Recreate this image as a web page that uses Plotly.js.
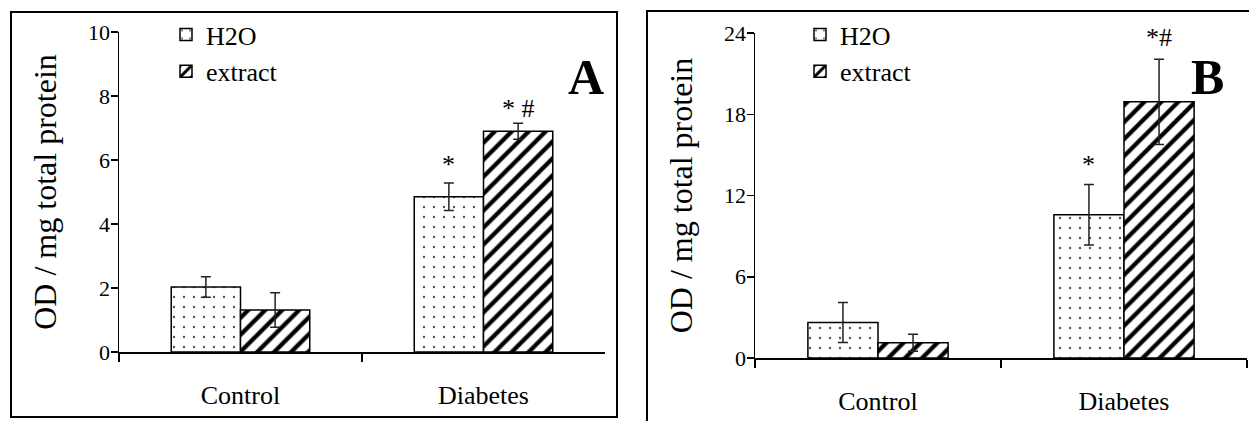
<!DOCTYPE html>
<html>
<head>
<meta charset="utf-8">
<script src="https://cdn.plot.ly/plotly-3.0.1.min.js"></script>
<style>html,body{margin:0;padding:0;background:#fff;}#chart{width:1249px;height:421px;}</style>
</head>
<body>
<div id="chart"></div>
<script>
// ---- data ----
const categories = ['Control', 'Diabetes'];
const seriesNames = ['H2O', 'extract'];

// Panel A
const A_h2o = [2.03, 4.85];
const A_h2o_err = [0.32, 0.43];
const A_extract = [1.31, 6.90];
const A_extract_err = [0.54, 0.25];
const A_yTicks = [0, 2, 4, 6, 8, 10];

// Panel B
const B_h2o = [2.62, 10.58];
const B_h2o_err = [1.47, 2.24];
const B_extract = [1.12, 18.92];
const B_extract_err = [0.63, 3.15];
const B_yTicks = [0, 6, 12, 18, 24];

// significance marks: [category index, series index, y value, text]
const A_marks = [[1, 0, 5.85, '*'], [1, 1, 7.6, '* #']];
const B_marks = [[1, 0, 14.3, '*'], [1, 1, 23.7, '*#']];

const yTitle = 'OD / mg total protein';
const panelLabels = ['A', 'B'];

// ---- styling ----
const W = 1249, H = 421;
const FONT = "'Liberation Serif', 'Times New Roman', Times, serif";
const BARGAP = 0.43;
const px = v => v / W;
const py = v => 1 - v / H;

const patH2O = {shape: '.', bgcolor: 'white', fgcolor: '#555', size: 10, solidity: 0.045};
const patExt = {shape: '/', bgcolor: 'white', fgcolor: 'black', size: 12, solidity: 0.36};

function barTrace(name, y, err, pattern, xa, ya, legend) {
  return {
    type: 'bar', name: name, x: categories, y: y,
    xaxis: xa, yaxis: ya, legend: legend, showlegend: true,
    marker: {color: 'white', pattern: pattern, line: {color: 'black', width: 1.5}},
    error_y: {type: 'data', array: err, visible: true, color: '#222', thickness: 1.5, width: 5},
    hoverinfo: 'skip'
  };
}

const data = [
  barTrace(seriesNames[0], A_h2o, A_h2o_err, patH2O, 'x', 'y', 'legend'),
  barTrace(seriesNames[1], A_extract, A_extract_err, patExt, 'x', 'y', 'legend'),
  barTrace(seriesNames[0], B_h2o, B_h2o_err, patH2O, 'x2', 'y2', 'legend2'),
  barTrace(seriesNames[1], B_extract, B_extract_err, patExt, 'x2', 'y2', 'legend2')
];

const barW = (1 - BARGAP) / 2;
function markAnn(m, xr, yr) {
  return {
    xref: xr, yref: yr, x: m[0] + (m[1] === 0 ? -barW / 2 : barW / 2), y: m[2],
    text: m[3], showarrow: false, font: {family: FONT, size: 26, color: 'black'}
  };
}

function xAxis(domain, anchor) {
  return {
    domain: domain, anchor: anchor, type: 'category', tickson: 'boundaries',
    showline: true, linecolor: 'black', linewidth: 1.5,
    ticks: 'outside', ticklen: 8, tickwidth: 1.5, tickcolor: 'black',
    ticklabelstandoff: 19,
    showgrid: false, zeroline: false, fixedrange: true,
    tickfont: {family: FONT, size: 26, color: 'black'}
  };
}
function yAxis(domain, anchor, range, ticks) {
  return {
    domain: domain, anchor: anchor, range: range, tickmode: 'array', tickvals: ticks,
    showline: true, linecolor: 'black', linewidth: 1.5,
    ticks: 'outside', ticklen: 7, tickwidth: 1.5, tickcolor: 'black',
    ticklabelstandoff: -4,
    showgrid: false, zeroline: false, fixedrange: true,
    tickfont: {family: FONT, size: 22, color: 'black'},
    title: {text: yTitle, font: {family: FONT, size: 32, color: 'black'}, standoff: 22}
  };
}

const legendBase = {
  xanchor: 'left', yanchor: 'top', bgcolor: 'rgba(0,0,0,0)', borderwidth: 0,
  font: {family: FONT, size: 26, color: 'black'}, itemwidth: 30, tracegroupgap: 0
};

const layout = {
  width: W, height: H,
  font: {family: FONT, color: 'black'},
  margin: {l: 0, r: 0, t: 0, b: 0, autoexpand: false},
  paper_bgcolor: 'white', plot_bgcolor: 'white',
  barmode: 'group', bargap: BARGAP, bargroupgap: 0,
  showlegend: true,
  xaxis: xAxis([px(119), px(605)], 'y'),
  yaxis: yAxis([py(352), py(32)], 'x', [0, 10], A_yTicks),
  xaxis2: xAxis([px(755), px(1247)], 'y2'),
  yaxis2: yAxis([py(358), py(33)], 'x2', [0, 24], B_yTicks),
  legend: Object.assign({x: px(166), y: py(11)}, legendBase),
  legend2: Object.assign({x: px(800), y: py(11)}, legendBase),
  shapes: [
    {type: 'rect', xref: 'paper', yref: 'paper', x0: px(11), x1: px(617), y0: py(417), y1: py(12),
     line: {color: 'black', width: 2}, fillcolor: 'rgba(0,0,0,0)', layer: 'below'},
    {type: 'rect', xref: 'paper', yref: 'paper', x0: px(647), x1: px(1270), y0: py(440), y1: py(11),
     line: {color: 'black', width: 2}, fillcolor: 'rgba(0,0,0,0)', layer: 'below'}
  ],
  annotations: [
    ...A_marks.map(m => markAnn(m, 'x', 'y')),
    ...B_marks.map(m => markAnn(m, 'x2', 'y2')),
    {xref: 'paper', yref: 'paper', x: px(586), y: py(47), text: '<b>' + panelLabels[0] + '</b>', showarrow: false,
     font: {family: FONT, size: 50, color: 'black'}},
    {xref: 'paper', yref: 'paper', x: px(1226), y: py(47), text: '<b>' + panelLabels[1] + '</b>', showarrow: false,
     font: {family: FONT, size: 50, color: 'black'}}
  ]
};

Plotly.newPlot('chart', data, layout, {displayModeBar: false, staticPlot: true});
</script>
</body>
</html>
